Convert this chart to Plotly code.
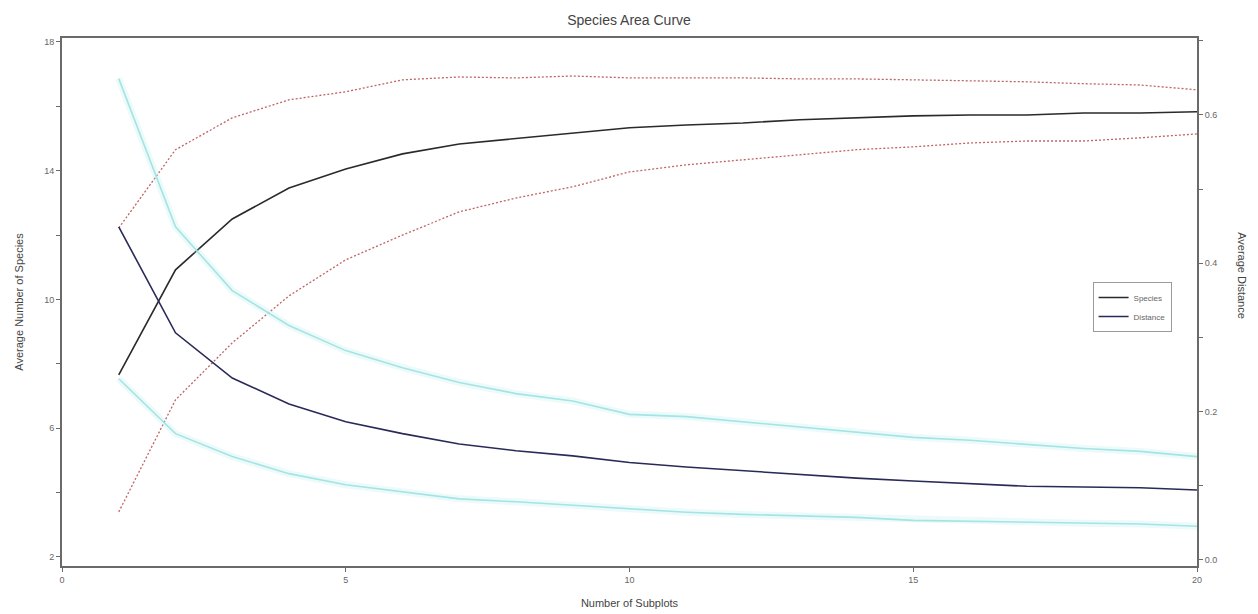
import plotly.graph_objects as go

# Number of subplots sampled
subplots = list(range(1, 21))

# Average number of species with its upper / lower bounds (left axis)
species_mean = [7.66, 10.92, 12.50, 13.46, 14.05, 14.52, 14.83, 14.99, 15.17, 15.33,
                15.42, 15.48, 15.58, 15.64, 15.70, 15.73, 15.73, 15.79, 15.79, 15.83]
species_upper = [12.22, 14.65, 15.64, 16.20, 16.45, 16.82, 16.91, 16.88, 16.94, 16.88,
                 16.88, 16.88, 16.85, 16.85, 16.82, 16.79, 16.76, 16.70, 16.66, 16.51]
species_lower = [3.40, 6.88, 8.65, 10.11, 11.23, 12.00, 12.72, 13.15, 13.50, 13.96,
                 14.18, 14.33, 14.49, 14.65, 14.74, 14.86, 14.92, 14.92, 15.02, 15.14]

# Average distance with its upper / lower bounds (right axis)
distance_mean = [0.449, 0.306, 0.245, 0.210, 0.186, 0.170, 0.156, 0.147, 0.140, 0.131,
                 0.125, 0.120, 0.114, 0.110, 0.106, 0.102, 0.099, 0.098, 0.097, 0.094]
distance_upper = [0.649, 0.449, 0.363, 0.316, 0.282, 0.259, 0.239, 0.224, 0.214, 0.196,
                  0.193, 0.186, 0.180, 0.173, 0.165, 0.161, 0.155, 0.150, 0.146, 0.139]
distance_lower = [0.244, 0.170, 0.139, 0.116, 0.101, 0.091, 0.082, 0.078, 0.073, 0.068,
                  0.064, 0.061, 0.059, 0.057, 0.053, 0.052, 0.050, 0.049, 0.048, 0.045]

FONT = "Liberation Sans, Arial, sans-serif"
AXIS_COL = "#6a6a6a"
RED = "#bf6464"
CYAN = "#a4e4e4"
CYAN_HALO = "rgba(170,232,232,0.22)"

fig = go.Figure()

# distance bounds: soft cyan lines with a faint halo
for band in (distance_upper, distance_lower):
    fig.add_trace(go.Scatter(x=subplots, y=band, yaxis="y2", mode="lines",
                             line=dict(color=CYAN_HALO, width=7),
                             showlegend=False, hoverinfo="skip"))
    fig.add_trace(go.Scatter(x=subplots, y=band, yaxis="y2", mode="lines",
                             line=dict(color=CYAN, width=1.6),
                             showlegend=False))

# species bounds: dotted red lines
for band in (species_upper, species_lower):
    fig.add_trace(go.Scatter(x=subplots, y=band, mode="lines",
                             line=dict(color=RED, width=1.3, dash="2px,2px"),
                             showlegend=False))

fig.add_trace(go.Scatter(x=subplots, y=species_mean, mode="lines", name="Species",
                         line=dict(color="#2a2a2a", width=1.6)))
fig.add_trace(go.Scatter(x=subplots, y=distance_mean, mode="lines", name="Distance",
                         yaxis="y2", line=dict(color="#2a2a58", width=1.6)))

fig.update_layout(
    width=1258, height=614,
    paper_bgcolor="white", plot_bgcolor="white",
    margin=dict(l=62, r=61, t=38, b=48),
    font=dict(family=FONT, size=10, color="#555555"),
    title=dict(text="Species Area Curve", x=0.5, xanchor="center", y=0.968, yanchor="middle",
               font=dict(family=FONT, size=14, color="#444444")),
    xaxis=dict(range=[0, 20], tickvals=[0, 5, 10, 15, 20], showgrid=False, zeroline=False,
               showline=True, linecolor=AXIS_COL, linewidth=2, mirror=True, automargin=False,
               ticks="outside", ticklen=4, tickcolor=AXIS_COL,
               tickfont=dict(size=9, color="#666666"),
               title=dict(text="Number of Subplots", font=dict(size=11, color="#444444"), standoff=16)),
    yaxis=dict(range=[1.72, 18.12], tickvals=[2, 6, 10, 14, 18], showgrid=False, zeroline=False,
               showline=True, linecolor=AXIS_COL, linewidth=2,
               ticks="outside", ticklen=4, tickcolor=AXIS_COL,
               minor=dict(tickvals=[4, 8, 12, 16], ticks="outside", ticklen=4, tickcolor=AXIS_COL),
               tickfont=dict(size=9, color="#666666"),
               title=dict(text="Average Number of Species", font=dict(size=11, color="#444444"),
                          standoff=18)),
    yaxis2=dict(overlaying="y", side="right", range=[-0.0086, 0.7038],
                tickvals=[0.0, 0.2, 0.4, 0.6], tickformat=".1f",
                showgrid=False, zeroline=False,
                showline=True, linecolor=AXIS_COL, linewidth=2,
                ticks="outside", ticklen=4, tickcolor=AXIS_COL,
                minor=dict(tickvals=[0.1, 0.3, 0.5, 0.7], ticks="outside", ticklen=4,
                           tickcolor=AXIS_COL),
                tickfont=dict(size=9, color="#666666")),
    legend=dict(x=0.908, y=0.538, xanchor="left", yanchor="top",
                bordercolor="#9a9a9a", borderwidth=1, bgcolor="white",
                font=dict(size=8, color="#666666"), tracegroupgap=0),
    annotations=[dict(text="Average Distance", textangle=90, xref="paper", yref="paper",
                      x=1.04, y=0.55, xanchor="center", yanchor="middle", showarrow=False,
                      font=dict(family=FONT, size=11, color="#444444"))],
)

fig.write_html("out.html")
